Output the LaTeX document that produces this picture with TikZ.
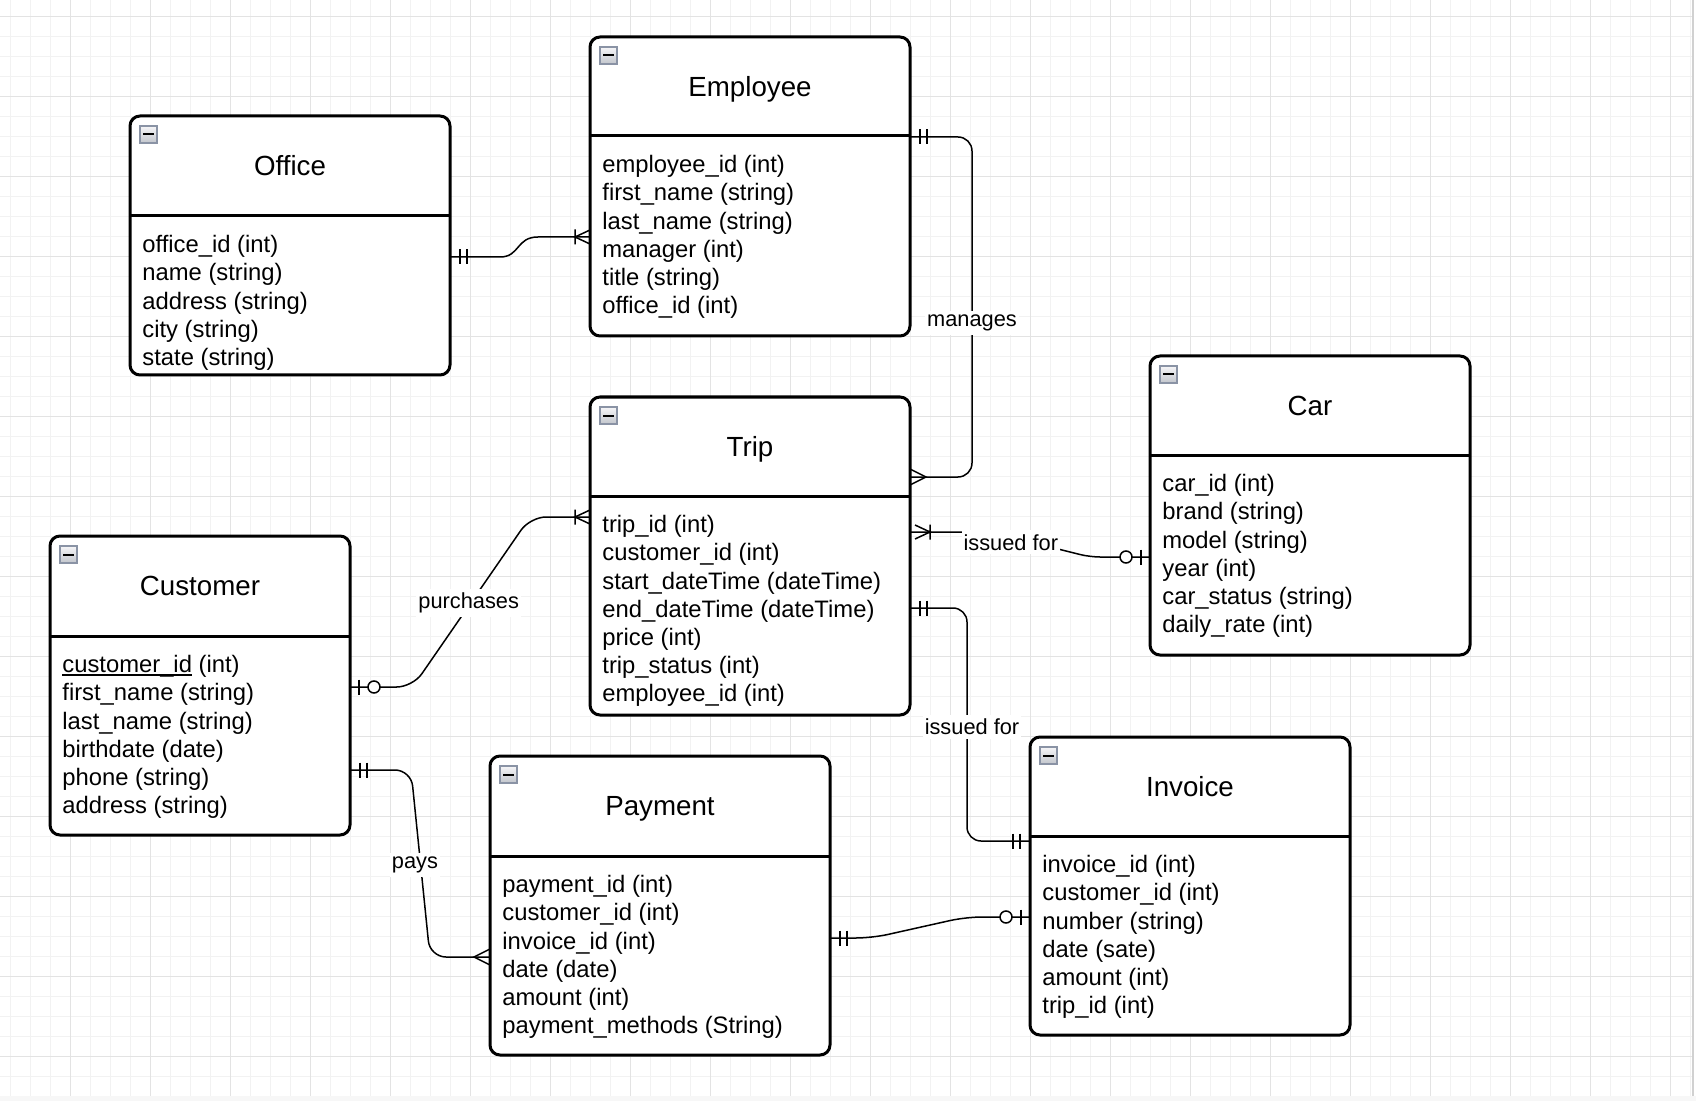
\documentclass[tikz,border=0pt]{standalone}
\usepackage{fontspec}
\setmainfont{Liberation Sans}
\usetikzlibrary{fit}
\definecolor{gridminor}{HTML}{F2F2F2}
\definecolor{gridmajor}{HTML}{E3E3E3}
\definecolor{iconborder}{HTML}{8A93A5}
\definecolor{icontop}{HTML}{F6F6F8}
\definecolor{iconbot}{HTML}{C2C5CC}
\newcommand\myul[1]{\setbox0\hbox{#1}\rlap{\rule[-0.13em]{\wd0}{0.065em}}\box0\relax}
\tikzset{
  erbox/.style={draw=black, line width=1.5pt, rounded corners=5pt, fill=white, inner sep=0pt, outer sep=0pt},
  hdrline/.style={draw=black, line width=1.5pt},
  conn/.style={draw=black, line width=0.75pt},
  attr/.style={anchor=base west, inner sep=0pt, font=\fontsize{11.9}{14}\selectfont},
  ttl/.style={anchor=base, inner sep=0pt, font=\fontsize{13.85}{16}\selectfont},
  lbl/.style={anchor=base, fill=white, inner xsep=1pt, inner ysep=2pt, font=\fontsize{10.9}{13}\selectfont},
  mandone/.pic={\draw[conn] (10,-7.5) -- (10,7.5) (17,-7.5) -- (17,7.5);},
  onemany/.pic={\draw[conn] (0,-7) -- (15,0) -- (0,7) (15,-7.5) -- (15,7.5);},
  many/.pic={\draw[conn] (0,-8) -- (16,0) -- (0,8);},
  zeroone/.pic={\draw[conn] (9,-7.5) -- (9,7.5); \draw[conn, fill=white] (24,0) circle (6);},
  erminus/.pic={\draw[top color=icontop, bottom color=iconbot, draw=iconborder, line width=0.6pt] (0,0) rectangle (17,17);
                \draw[line width=1pt] (3,8.5) -- (14,8.5);}
}
\newcommand\erent[8]{%
  \node[erbox, fit={(#2,#3) (#4,#5)}] (#1) {};
  \draw[hdrline] (#2,#6) -- (#4,#6);
  \pic at ({#2+10},{#3+10}) {erminus};
  \node[ttl] (#1-title) at ({(#2+#4)/2},{(#3+#6)/2+9.9}) {#7};
  \foreach \r [count=\i from 0] in {#8} \node[attr] (#1-row\i) at ({#2+12},{#6+36.8+28.12*\i}) {\r};
}
\begin{document}
\begin{tikzpicture}[x=0.5pt, y=-0.5pt]
\useasboundingbox (0,0) rectangle (1696,1101);
% background grid
\fill[white] (0,0) rectangle (1696,1101);
\fill[black!3] (0,1096) rectangle (1696,1101);
\begin{scope}
  \clip (0,0) rectangle (1692,1096);
  \foreach \x in {10.7,30.7,...,1691} \draw[gridminor, line width=0.5pt] (\x,0) -- (\x,1096);
  \foreach \y in {16.7,36.7,...,1095} \draw[gridminor, line width=0.5pt] (0,\y) -- (1692,\y);
  \foreach \x in {70.7,150.7,...,1691} \draw[gridmajor, line width=0.5pt] (\x,0) -- (\x,1096);
  \foreach \y in {16.7,96.7,...,1095} \draw[gridmajor, line width=0.5pt] (0,\y) -- (1692,\y);
\end{scope}
\draw[black!18, line width=1pt] (1693,0) -- (1693,1096);

% entities
\erent{emp}{590}{37}{910}{336}{136}{Employee}{employee\_id (int),first\_name (string),last\_name (string),manager (int),title (string),office\_id (int)}
\erent{office}{130}{116}{450}{375}{216}{Office}{office\_id (int),name (string),address (string),city (string),state (string)}
\erent{trip}{590}{397}{910}{715}{496}{Trip}{trip\_id (int),customer\_id (int),start\_dateTime (dateTime),end\_dateTime (dateTime),price (int),trip\_status (int),employee\_id (int)}
\erent{car}{1150}{356}{1470}{655}{455}{Car}{car\_id (int),brand (string),model (string),year (int),car\_status (string),daily\_rate (int)}
\erent{cust}{50}{536}{350}{835}{636}{Customer}{\myul{customer\_id} (int),first\_name (string),last\_name (string),birthdate (date),phone (string),address (string)}
\erent{pay}{490}{756}{830}{1055}{856}{Payment}{payment\_id (int),customer\_id (int),invoice\_id (int),date (date),amount (int),payment\_methods (String)}
\erent{inv}{1030}{737}{1350}{1035}{836}{Invoice}{invoice\_id (int),customer\_id (int),number (string),date (sate),amount (int),trip\_id (int)}

% Office - Employee
\draw[conn] (office.east |- 0,257) -- (500,257) .. controls (520,257) and (516,237) .. (538,237) -- (emp.west |- 0,237);
\pic at (office.east |- 0,257) {mandone};
\pic[xscale=-1] at (emp.west |- 0,237) {onemany};

% manages
\draw[conn, rounded corners=7pt] (emp.east |- 0,137) -- (972,137) -- (972,477) -- (trip.east |- 0,477);
\pic at (emp.east |- 0,137) {mandone};
\pic at (trip.east |- 0,477) {many};
\node[lbl] (l-manages) at (972,326.7) {manages};

% purchases
\draw[conn, rounded corners=8pt] (cust.east |- 0,687) -- (412.7,687) -- (530.1,517) -- (trip.west |- 0,517);
\pic at (cust.east |- 0,687) {zeroone};
\pic[xscale=-1] at (trip.west |- 0,517) {onemany};
\node[lbl] (l-purchases) at (468.7,608.3) {purchases};

% Trip - Car
\draw[conn, rounded corners=5pt] (trip.east |- 0,532) -- (990,532) -- (1090,557) -- (car.west |- 0,557);
\pic[shift={(5,0)}] at (trip.east |- 0,532) {onemany};
\pic[xscale=-1] at (car.west |- 0,557) {zeroone};
\node[lbl] (l-issued1) at (1010.8,550) {issued for};

% Trip - Invoice
\draw[conn, rounded corners=7pt] (trip.east |- 0,608) -- (967,608) -- (967,841) -- (inv.west |- 0,841);
\pic at (trip.east |- 0,608) {mandone};
\pic[xscale=-1] at (inv.west |- 0,841) {mandone};
\node[lbl] (l-issued2) at (972,734.5) {issued for};

% pays
\draw[conn, rounded corners=8pt] (cust.east |- 0,770) -- (411,770) -- (430,957) -- (pay.west |- 0,957);
\pic at (cust.east |- 0,770) {mandone};
\pic[xscale=-1] at (pay.west |- 0,957) {many};
\node[lbl] (l-pays) at (415,868.3) {pays};

% Payment - Invoice
\draw[conn, rounded corners=8pt] (pay.east |- 0,938) -- (872,938) -- (966,917) -- (inv.west |- 0,917);
\pic at (pay.east |- 0,938) {mandone};
\pic[xscale=-1] at (inv.west |- 0,917) {zeroone};
\end{tikzpicture}
\end{document}
